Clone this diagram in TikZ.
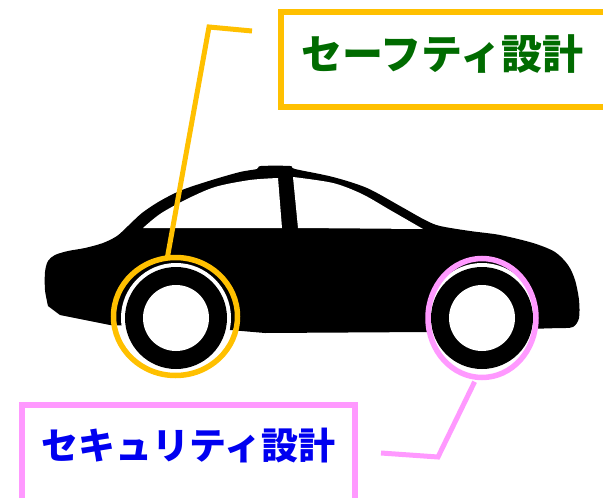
\documentclass[tikz,border=0pt]{standalone}
\usepackage{fontspec}
\usetikzlibrary{shapes.geometric}
\newfontfamily\jpfont{Noto Sans CJK JP}
\definecolor{SafeGold}{HTML}{FFC000}
\definecolor{SecPink}{HTML}{FF99FF}
\definecolor{SafeGreen}{HTML}{006B00}
\definecolor{SecBlue}{HTML}{0000F0}

\begin{document}
\begin{tikzpicture}[x=1pt,y=-1pt,
    box/.style={draw,line width=6pt,outer sep=0pt,inner ysep=0pt,anchor=north west},
    ring/.style={ellipse,draw,line width=5.5pt,inner sep=0pt,outer sep=0pt},
    lead/.style={line width=5pt}]
  \useasboundingbox (0,0) rectangle (603,498);
  \clip (0,0) rectangle (603,498);
  % car body
  \fill[black] plot[smooth,tension=.5] coordinates {(48,306) (45,290) (45,272) (48,261)
      (55,255) (68,251) (85,248) (103,243) (117,236) (128,226) (142,213) (160,201)
      (182,190) (212,180) (240,172) (257,169) (261,166) (290,166) (295,169) (333,177)
      (367,188) (400,206) (425,220) (440,226) (470,231) (500,235) (533,243) (555,252)
      (568,265) (575,280) (579,300) (579,318) (573,327) (560,328)}
    -- (430,332) -- (265,333) -- (230,330) -- (110,325) -- (60,315) -- cycle;
  % windows
  \fill[white] plot[smooth] coordinates {(143,228) (160,214) (185,200) (215,187)
      (250,180) (278,178)} -- (282,228) -- cycle;
  \fill[white] (298,228) -- plot[smooth] coordinates {(293,177) (333,183) (362,194)
      (390,210) (423,229)} -- cycle;
  % wheels
  \foreach \cx in {176,482}{
    \fill[white] (\cx,318) circle[radius=55];
    \fill[black] (\cx,318) circle[radius=51];
    \fill[white] (\cx,318) circle[radius=33];
  }
  \node[ring,SafeGold,minimum width=124pt,minimum height=118pt] (safering) at (175.5,316.5) {};
  \node[ring,SecPink,minimum width=108pt,minimum height=119pt] (secring) at (482,318) {};
  \node[box,draw=SafeGold,text=SafeGreen,text width=300pt,inner xsep=20pt,align=left,
        text height=57pt,text depth=38pt,
        font={\jpfont\bfseries\fontsize{41pt}{41pt}\selectfont}] (safety) at (281,12) {セーフティ設計};
  \node[box,draw=SecPink,text=SecBlue,text width=313pt,inner xsep=10pt,align=center,
        text height=54pt,text depth=52pt,
        font={\jpfont\bfseries\fontsize{37pt}{37pt}\selectfont}] (security) at (22,405) {セキュリティ設計};
  \coordinate (safetyend) at (252,31);
  \coordinate (safetybend) at (209,27);
  \draw[lead,SafeGold] (safetyend) -- (safetybend) -- (safering.98);
  \coordinate (secend) at (381,453);
  \coordinate (secbend) at (438,457);
  \draw[lead,SecPink,shorten <=5pt] (secring.-95) -- (secbend) -- (secend);
\end{tikzpicture}
\end{document}
